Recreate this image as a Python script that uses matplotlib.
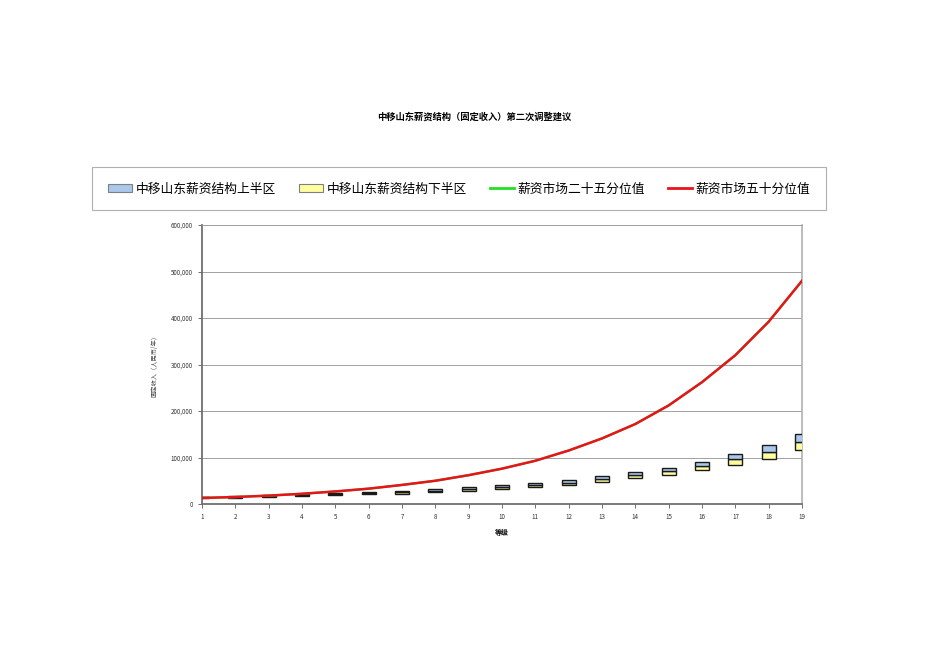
import matplotlib
matplotlib.use('Agg')
import matplotlib.pyplot as plt
import numpy as np
from matplotlib.patches import Patch
from matplotlib.lines import Line2D
from matplotlib.ticker import FuncFormatter

plt.rcParams['font.family'] = ['Noto Sans CJK SC', 'DejaVu Sans']

# grade levels
grades = list(range(1, 20))

# salary structure: lower bound, midpoint, upper bound
lower = [12000, 13000, 14500, 16500, 18500, 20500, 22500, 25500, 28500, 32500,
         36500, 40500, 47000, 55000, 63000, 72500, 83000, 97500, 116000]
mid = [14000, 15000, 16500, 19000, 21000, 23000, 26000, 28500, 32000, 36000,
       40500, 46000, 53000, 62000, 71500, 81000, 96000, 112000, 133000]
upper = [16000, 17000, 18500, 21500, 24000, 26500, 29000, 31500, 35500, 40500,
         45000, 51500, 60000, 68000, 78000, 90000, 108000, 127500, 150000]

# market percentiles (the 25th line is hidden under the 50th one)
market50 = [13000, 15000, 18000, 22000, 27000, 33000, 41000, 50000, 62000, 76000,
            93000, 115000, 141000, 172000, 212000, 262000, 320000, 392000, 480000]
market25 = market50

labels = ['中移山东薪资结构上半区', '中移山东薪资结构下半区', '薪资市场二十五分位值', '薪资市场五十分位值']
title = '中移山东薪资结构（固定收入）第二次调整建议'

blue = '#a9c8ec'
yellow = '#ffff9f'
green = '#22e022'
red = '#e8141c'

fig = plt.figure(figsize=(9.5, 6.72), dpi=100)
ax = fig.add_axes([202 / 950, 1 - 504 / 672, 600 / 950, 279 / 672])

x = np.array(grades)
lo = np.array(lower)
md = np.array(mid)
up = np.array(upper)

ax.bar(x, md - lo, bottom=lo, width=0.42, color=yellow, edgecolor='#1a1a1a', linewidth=1.0, zorder=3)
ax.bar(x, up - md, bottom=md, width=0.42, color=blue, edgecolor='#1a1a1a', linewidth=1.0, zorder=3)
ax.plot(x, market25, color=green, linewidth=1.6, zorder=4)
ax.plot(x, market50, color=red, linewidth=1.8, zorder=5)

ax.set_xlim(1, 19)
ax.set_ylim(0, 600000)
ax.set_xticks(grades)
ax.set_yticks(range(0, 600001, 100000))
ax.yaxis.set_major_formatter(FuncFormatter(lambda v, p: f'{int(v):,}'))
ax.tick_params(labelsize=4.5, colors='#555555', length=3, width=0.6, labelcolor='#333333')
ax.grid(axis='y', color='#a0a0a0', linewidth=0.7, zorder=0)
for side in ['left', 'bottom']:
    ax.spines[side].set_color('#707070')
    ax.spines[side].set_linewidth(1.3)
ax.spines['right'].set_color('#b0b0b0')
ax.spines['right'].set_linewidth(1.2)
ax.spines['top'].set_color('#a0a0a0')
ax.spines['top'].set_linewidth(0.7)

ax.set_xlabel('等级', fontsize=5, fontweight='bold', labelpad=6)
ax.set_ylabel('固定收入（人民币/年）', fontsize=4.5, color='#444444', labelpad=9)

fig.text(474 / 950, 1 - 117 / 672, title, ha='center', va='center', fontsize=6.7, fontweight='bold')

handles = [Patch(facecolor=blue, edgecolor='#7f7f7f', linewidth=0.8),
           Patch(facecolor=yellow, edgecolor='#7f7f7f', linewidth=0.8),
           Line2D([], [], color=green, linewidth=2),
           Line2D([], [], color=red, linewidth=2)]
leg = fig.legend(handles, labels, loc='center', ncol=4, fontsize=9.2,
                 bbox_to_anchor=(459 / 950, 1 - 189 / 672),
                 frameon=False, handlelength=1.9, handleheight=0.55,
                 handletextpad=0.25, columnspacing=1.8)
fig.add_artist(plt.Rectangle((92 / 950, 1 - 210 / 672), 734 / 950, 43 / 672,
                             transform=fig.transFigure, fill=False,
                             edgecolor='#b0b0b0', linewidth=0.8))

fig.savefig('out.png', dpi=100)
